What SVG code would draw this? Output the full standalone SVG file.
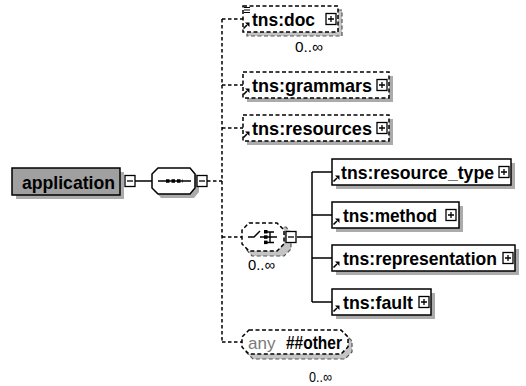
<svg xmlns="http://www.w3.org/2000/svg" width="526" height="386" viewBox="0 0 526 386">
<style>
.bg{fill:#fff}
.box{fill:#fff;stroke:#000;stroke-width:1.5}
.opt{stroke-dasharray:4 2.5}
.sh{fill:#ababab}
.shd{fill:#c4c4c4;stroke:#555;stroke-width:1.2;stroke-dasharray:4 2.5}
.lbl{font-family:"Liberation Sans",Arial,sans-serif;font-weight:bold;font-size:19px;fill:#000}
.occ{font-family:"Liberation Sans",Arial,sans-serif;font-size:15px;fill:#000}
.any{font-family:"Liberation Sans",Arial,sans-serif;font-size:17px;fill:#7a7a7a}
.ln{stroke:#000;stroke-width:1.5;fill:none}
.dl{stroke:#000;stroke-width:1.5;fill:none;stroke-dasharray:3.5 2.5}
</style>
<defs>
<g id="plus"><rect x="0" y="0" width="10" height="11" fill="#fff" stroke="#000" stroke-width="1.3"/><path d="M2 5.5H8M5 2.5V8.5" stroke="#000" stroke-width="1.3"/></g>
<g id="minus"><rect x="0" y="0" width="10" height="11" fill="#fff" stroke="#000" stroke-width="1.3"/><path d="M2 5.5H8" stroke="#000" stroke-width="1.3"/></g>
<g id="ref"><path d="M0.5 6.5L4 3" stroke="#000" stroke-width="1.6"/><path d="M2 0.5H6.5V5Z" fill="#000"/></g>
</defs>
<rect class="bg" x="0" y="0" width="526" height="386"/>

<g id="connectors">
<path class="ln" d="M135 181H152"/>
<path class="dl" d="M207 181H222"/>
<path class="dl" d="M222 19V342"/>
<path class="dl" d="M222 19H243M222 85H243M222 128H243M222 237H242M222 342H242"/>
<path class="ln" d="M297 237H312M312 172V302M312 172H332M312 215H332M312 258H332M312 302H332"/>
</g>

<g id="application">
<rect class="sh" x="16" y="172" width="108" height="27"/>
<rect x="12" y="168" width="108" height="27" fill="#a0a0a0" stroke="#000" stroke-width="1.5"/>
<text class="lbl" x="22" y="188.5" textLength="93" lengthAdjust="spacingAndGlyphs">application</text>
<use href="#minus" x="125" y="175.5"/>
</g>

<g id="sequence">
<polygon class="sh" points="161,172 194,172 199,177 199,192 194,198 161,198 156,192 156,177"/>
<polygon class="box" points="158,168 190,168 195,174 195,188 190,194 158,194 152,188 152,174"/>
<path d="M158 181H191" stroke="#000" stroke-width="1.5"/>
<path d="M166 181H183" stroke="#000" stroke-width="3.5" stroke-dasharray="3.5 2"/>
<use href="#minus" x="197" y="175.5"/>
</g>

<g id="doc">
<rect class="shd" x="247" y="10" width="95" height="26"/>
<rect class="box opt" x="243" y="6" width="95" height="26"/>
<path d="M244 7.5H250M244 10H250M244 12.5H250" stroke="#000" stroke-width="1"/>
<use href="#ref" x="243" y="22"/>
<text class="lbl" x="252" y="25.5" textLength="63" lengthAdjust="spacingAndGlyphs">tns:doc</text>
<use href="#plus" x="326" y="13.5"/>
<text class="occ" x="295" y="52" textLength="28" lengthAdjust="spacingAndGlyphs">0..∞</text>
</g>

<g id="grammars">
<rect class="sh" x="247" y="76" width="146" height="26"/>
<rect class="box opt" x="243" y="72" width="146" height="26"/>
<use href="#ref" x="243" y="88"/>
<text class="lbl" x="252" y="91.5" textLength="120" lengthAdjust="spacingAndGlyphs">tns:grammars</text>
<use href="#plus" x="377" y="79.5"/>
</g>

<g id="resources">
<rect class="sh" x="247" y="119" width="146" height="26"/>
<rect class="box opt" x="243" y="115" width="146" height="26"/>
<use href="#ref" x="243" y="131"/>
<text class="lbl" x="252" y="134.5" textLength="120" lengthAdjust="spacingAndGlyphs">tns:resources</text>
<use href="#plus" x="377" y="122.5"/>
</g>

<g id="choice">
<path class="shd" d="M252 227H286L291 233V249L284 256H252L246 249V233Z"/>
<path class="box opt" d="M249 223H277L284 230V244L277 251H249L242 244V230Z"/>
<path d="M248 237H254L260 231M260 237H266M270 232V243M266 232H274M266 237H277M266 242.5H274" stroke="#000" stroke-width="1.4" fill="none"/>
<rect x="264" y="230" width="3.5" height="3.5" fill="#000"/>
<rect x="264" y="235.3" width="3.5" height="3.5" fill="#000"/>
<rect x="264" y="240.6" width="3.5" height="3.5" fill="#000"/>
<use href="#minus" x="286" y="231.5"/>
<text class="occ" x="248" y="270" textLength="27" lengthAdjust="spacingAndGlyphs">0..∞</text>
</g>

<g id="resource_type">
<rect class="sh" x="336" y="163" width="179" height="26"/>
<rect class="box" x="332" y="159" width="179" height="26"/>
<use href="#ref" x="333" y="175"/>
<text class="lbl" x="341" y="178.5" textLength="153" lengthAdjust="spacingAndGlyphs">tns:resource_type</text>
<use href="#plus" x="499" y="166.5"/>
</g>

<g id="method">
<rect class="sh" x="336" y="206" width="127" height="26"/>
<rect class="box" x="332" y="202" width="127" height="26"/>
<use href="#ref" x="333" y="218"/>
<text class="lbl" x="343" y="221.5" textLength="94" lengthAdjust="spacingAndGlyphs">tns:method</text>
<use href="#plus" x="446" y="209.5"/>
</g>

<g id="representation">
<rect class="sh" x="336" y="249" width="183" height="26"/>
<rect class="box" x="332" y="245" width="183" height="26"/>
<use href="#ref" x="333" y="261"/>
<text class="lbl" x="343" y="264.5" textLength="154" lengthAdjust="spacingAndGlyphs">tns:representation</text>
<use href="#plus" x="503" y="252.5"/>
</g>

<g id="fault">
<rect class="sh" x="336" y="293" width="99" height="26"/>
<rect class="box" x="332" y="289" width="99" height="26"/>
<use href="#ref" x="333" y="305"/>
<text class="lbl" x="343" y="308.5" textLength="70" lengthAdjust="spacingAndGlyphs">tns:fault</text>
<use href="#plus" x="419" y="296.5"/>
</g>

<g id="any">
<path class="shd" d="M253 334H345L352 341V352L345 359H253L246 352V341Z"/>
<path class="box opt" d="M249 330H341L348 337V347L341 354H249L242 347V337Z"/>
<text class="any" x="248" y="348.5">any</text>
<text class="lbl" x="286" y="348.5" textLength="56" lengthAdjust="spacingAndGlyphs">##other</text>
<text class="occ" x="309" y="382" font-size="13" textLength="23" lengthAdjust="spacingAndGlyphs">0..∞</text>
</g>
</svg>
